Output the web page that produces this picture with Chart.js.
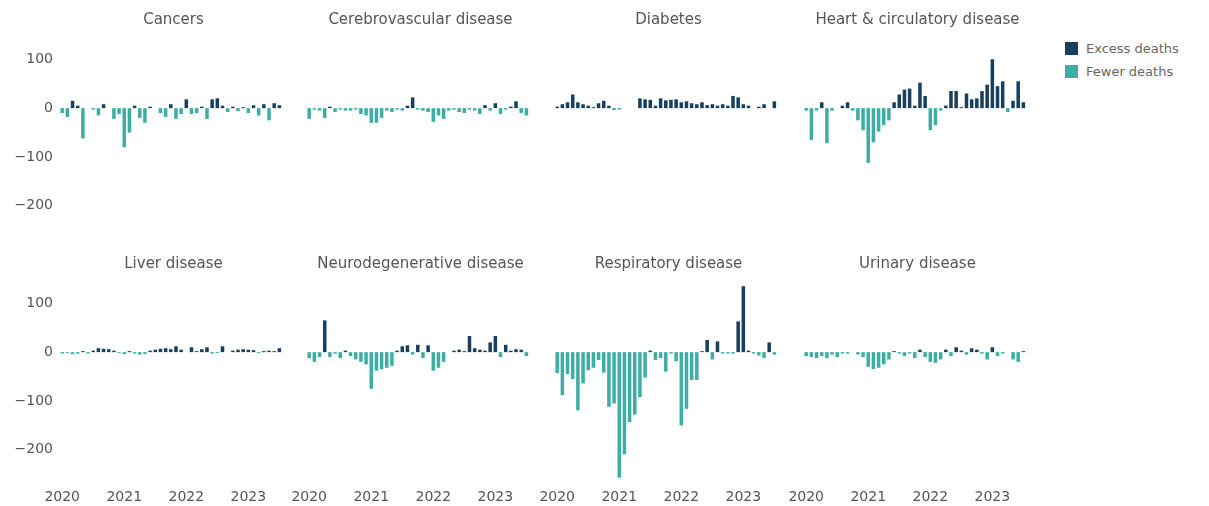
<!DOCTYPE html>
<html>
<head>
<meta charset="utf-8">
<script src="https://cdn.jsdelivr.net/npm/chart.js@4.4.1/dist/chart.umd.min.js"></script>
<style>
  body { margin: 0; background: #fff; }
  #wrap { position: relative; width: 1209px; height: 506px; overflow: hidden; }
  canvas { position: absolute; }
  .legend { position: absolute; left: 1065px; font: 13px "DejaVu Sans", sans-serif; color: #666; line-height: 16px; white-space: nowrap; }
  .legend span { display: inline-block; width: 13px; height: 13px; margin-right: 8px; vertical-align: -2px; }
</style>
</head>
<body>
<div id="wrap">
  <div class="legend" style="top:41px"><span style="background:#173f5f"></span>Excess deaths</div>
  <div class="legend" style="top:64px"><span style="background:#3caea3"></span>Fewer deaths</div>
</div>
<script>
const months = [
  "Jan 2020", "Feb 2020", "Mar 2020", "Apr 2020", "May 2020", "Jun 2020", "Jul 2020", "Aug 2020", "Sep 2020", "Oct 2020", "Nov 2020", "Dec 2020",
  "Jan 2021", "Feb 2021", "Mar 2021", "Apr 2021", "May 2021", "Jun 2021", "Jul 2021", "Aug 2021", "Sep 2021", "Oct 2021", "Nov 2021", "Dec 2021",
  "Jan 2022", "Feb 2022", "Mar 2022", "Apr 2022", "May 2022", "Jun 2022", "Jul 2022", "Aug 2022", "Sep 2022", "Oct 2022", "Nov 2022", "Dec 2022",
  "Jan 2023", "Feb 2023", "Mar 2023", "Apr 2023", "May 2023", "Jun 2023", "Jul 2023"
];
const yearLabels = ["2020", "2021", "2022", "2023"];
const yTicks = [100, 0, -100, -200];

const panelNames = [
  "Cancers", "Cerebrovascular disease", "Diabetes", "Heart & circulatory disease",
  "Liver disease", "Neurodegenerative disease", "Respiratory disease", "Urinary disease"
];

const cancers = [-10, -18, 15, 5, -62, 0, -3, -15, 8, 0, -22, -12, -80, -50, 5, -20, -30, 3, 0, -10, -18, 8,
  -22, -12, 18, -12, -10, 3, -22, 18, 20, 5, -8, 3, -6, 2, -10, 6, -15, 8, -25, 10, 6];
const cerebrovascular = [-22, -3, -5, -20, 3, -8, -3, -5, -5, -3, -12, -15, -30, -30, -20, -5, -8, -3, -5, 5, 22, -3,
  -5, -8, -28, -15, -22, -5, -3, -8, -10, -3, -5, -12, 6, -5, 10, -12, -3, 3, 14, -10, -15];
const diabetes = [3, 8, 12, 28, 12, 8, 5, 2, 10, 15, 5, -4, -3, 0, 0, 0, 20, 18, 17, 5, 20, 16,
  17, 18, 12, 14, 10, 8, 12, 6, 8, 5, 8, 5, 25, 22, 8, 5, 0, 3, 8, 0, 14];
const heart = [-5, -65, -5, 12, -72, -5, 0, 5, 12, -5, -25, -45, -112, -70, -48, -35, -25, 12, 28, 38, 40, 5,
  52, 25, -45, -35, -5, 5, 35, 35, 2, 30, 18, 20, 35, 48, 100, 45, 55, -8, 15, 55, 12];
const liver = [-3, -2, -4, -3, 2, -3, 3, 8, 7, 6, 3, -2, -4, 2, -3, -5, -4, 3, 5, 7, 8, 6,
  12, 5, 0, 10, 2, 6, 10, -3, -2, 12, 0, 3, 5, 6, 5, 4, -2, 2, 3, 2, 8];
const neuro = [-12, -20, -10, 65, -10, -3, -12, 3, -8, -15, -20, -25, -75, -38, -35, -32, -28, 3, 12, 14, -5, 15,
  -12, 14, -38, -32, -20, 0, 3, 5, 2, 33, 8, 5, 3, 20, 33, -10, 15, 3, 6, 5, -8];
const respiratory = [-43, -88, -45, -55, -119, -64, -37, -32, -16, -42, -112, -105, -257, -209, -143, -128, -92, -52, 3, -16,
  -12, -40, -3, -19, -150, -116, -57, -57, 2, 25, -15, 22, -3, -3, -3, 63, 135, 3, -3, -7, -12, 20, -5];
const urinary = [-8, -10, -12, -8, -12, -5, -10, -3, -3, 0, -5, -10, -30, -35, -32, -25, -15, 2, -3, -8, -3, -12,
  5, -10, -20, -22, -15, 5, -8, 10, 3, -5, 8, 5, -3, -15, 10, -8, -3, 0, -15, -20, 2];

const panelSeries = [cancers, cerebrovascular, diabetes, heart, liver, neuro, respiratory, urinary];

const EXCESS = "#173f5f";
const FEWER = "#3caea3";
const FONT = "'DejaVu Sans', Verdana, sans-serif";

// layout of the 2x4 grid
const plotLefts = [56, 303, 551, 800];
const plotW = 235;
const rowTops = [11, 255];
const titleH = 19;
const plotH = 210;
const yAxisW = 56;
const xAxisH = 22;
const sideRoom = 24; // blank strip left of cols 2-4 so the first year label is not cut

const wrap = document.getElementById("wrap");

const fmtTick = (v) => (v < 0 ? "\u2212" + Math.abs(v) : String(v));

// stop Chart.js from shrinking the plot to fit edge labels, so all panels line up
const noEdgePadding = (s) => {
  s.paddingLeft = 0;
  s.paddingRight = 0;
  s.paddingTop = 0;
  s.paddingBottom = 0;
};

panelNames.forEach((name, p) => {
  const row = Math.floor(p / 4);
  const col = p % 4;
  const showY = col === 0;
  const showX = row === 1;

  const canvas = document.createElement("canvas");
  const extraLeft = showY ? yAxisW : sideRoom;
  const left = plotLefts[col] - extraLeft;
  const width = plotW + extraLeft;
  const height = titleH + plotH + (showX ? xAxisH : 0);
  canvas.width = width;
  canvas.height = height;
  canvas.style.left = left + "px";
  canvas.style.top = rowTops[row] + "px";
  canvas.style.width = width + "px";
  canvas.style.height = height + "px";
  wrap.appendChild(canvas);

  const values = panelSeries[p];

  new Chart(canvas.getContext("2d"), {
    type: "bar",
    data: {
      datasets: [{
        label: name,
        data: values.map((v, i) => ({ x: i, y: v })),
        backgroundColor: (ctx) => (ctx.raw && ctx.raw.y >= 0 ? EXCESS : FEWER),
        categoryPercentage: 1,
        barPercentage: 0.68,
      }],
    },
    options: {
      responsive: false,
      animation: false,
      layout: { padding: { left: showY ? 0 : sideRoom, right: 0, top: 0, bottom: 0 } },
      scales: {
        x: {
          type: "linear",
          display: showX,
          offset: false,
          min: -1.2,
          max: 44.25,
          grid: { display: false, drawTicks: false },
          border: { display: false },
          afterBuildTicks: (s) => {
            s.ticks = yearLabels.map((y) => ({ value: months.indexOf("Jan " + y) }));
          },
          afterFit: (s) => {
            if (showX) s.height = xAxisH;
            noEdgePadding(s);
          },
          ticks: {
            padding: 5,
            maxRotation: 0,
            autoSkip: false,
            color: "#555",
            font: { family: FONT, size: 14 },
            callback: (v) => months[v].slice(4),
          },
        },
        y: {
          display: showY,
          min: -270,
          max: 160,
          grid: { display: false, drawTicks: false },
          border: { display: false },
          afterBuildTicks: (s) => {
            s.ticks = yTicks.map((v) => ({ value: v }));
          },
          afterFit: (s) => {
            if (showY) s.width = yAxisW;
            noEdgePadding(s);
          },
          ticks: {
            padding: 3,
            color: "#555",
            font: { family: FONT, size: 14 },
            callback: fmtTick,
          },
        },
      },
      plugins: {
        legend: { display: false },
        tooltip: { enabled: false },
        title: {
          display: true,
          text: name,
          fullSize: false,
          color: "#555",
          font: { family: FONT, size: 15, weight: "normal" },
          padding: { top: 0, bottom: 1 },
        },
      },
    },
  });
});
</script>
</body>
</html>
